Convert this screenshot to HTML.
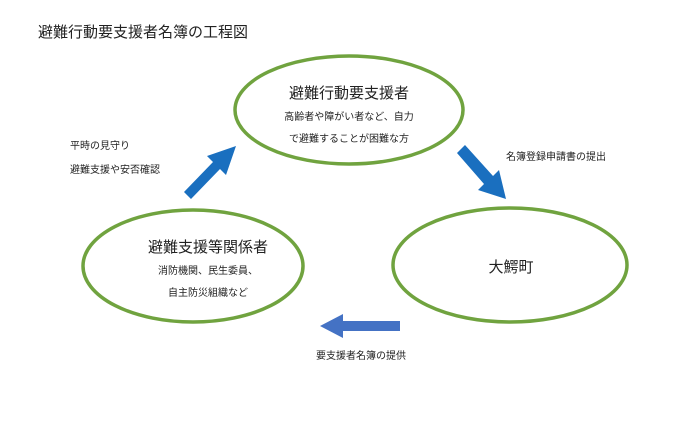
<!DOCTYPE html>
<html><head><meta charset="utf-8"><style>
html,body{margin:0;padding:0;background:#fff;}
svg text{font-family:"Liberation Sans","Noto Sans CJK JP",sans-serif;fill:#222;}
</style></head><body>
<svg width="700" height="420" viewBox="0 0 700 420" xmlns="http://www.w3.org/2000/svg">
<rect width="700" height="420" fill="#fff"/>
<text x="38" y="37" font-size="15">避難行動要支援者名簿の工程図</text>
<g fill="none" stroke="#70a33f" stroke-width="3.5">
<ellipse cx="349" cy="110" rx="114" ry="54"/>
<ellipse cx="193" cy="266" rx="110" ry="56"/>
<ellipse cx="510" cy="265" rx="117" ry="57"/>
</g>
<text x="349" y="98" font-size="15" text-anchor="middle">避難行動要支援者</text>
<text x="349" y="120" font-size="10" text-anchor="middle">高齢者や障がい者など、自力</text>
<text x="349" y="142" font-size="10" text-anchor="middle">で避難することが困難な方</text>
<text x="208" y="252" font-size="15" text-anchor="middle">避難支援等関係者</text>
<text x="208" y="274" font-size="10" text-anchor="middle">消防機関、民生委員、</text>
<text x="208" y="296" font-size="10" text-anchor="middle">自主防災組織など</text>
<text x="511" y="272" font-size="15" text-anchor="middle">大鰐町</text>
<text x="70" y="149" font-size="10">平時の見守り</text>
<text x="70" y="173" font-size="10">避難支援や安否確認</text>
<text x="506" y="160" font-size="10">名簿登録申請書の提出</text>
<text x="316" y="359" font-size="10">要支援者名簿の提供</text>
<g fill="#1a6fbf">
<polygon points="184,192 213,162 207,156 236,146 226,175 220,169 191,199"/>
<polygon points="457,153 465,145 493,176 499,170 506,199 478,190 484,184"/>
</g>
<polygon points="400,321 343,321 343,314 320,326 343,338 343,331 400,331" fill="#4472c4"/>
</svg>
</body></html>
